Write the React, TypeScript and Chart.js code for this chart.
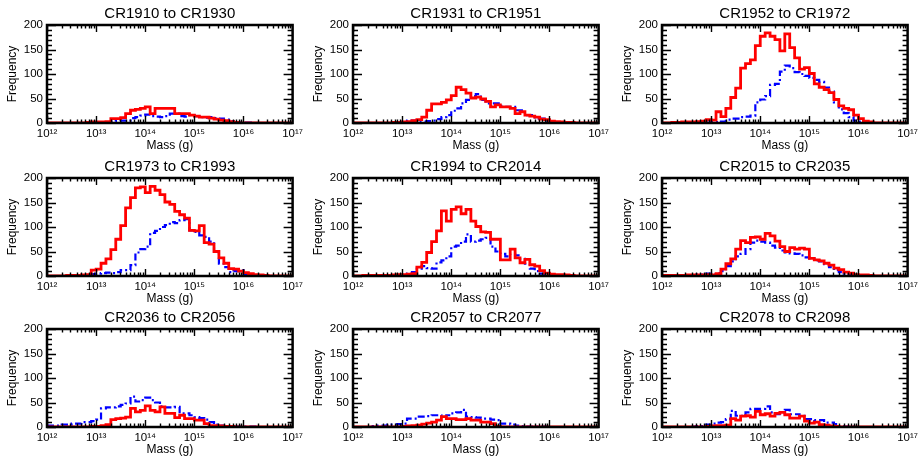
import React, { useEffect, useRef } from "react";
import { Chart, registerables } from "chart.js";

Chart.register(...registerables);

// ---------- data ----------
const PANEL_TITLES = [
  "CR1910 to CR1930",
  "CR1931 to CR1951",
  "CR1952 to CR1972",
  "CR1973 to CR1993",
  "CR1994 to CR2014",
  "CR2015 to CR2035",
  "CR2036 to CR2056",
  "CR2057 to CR2077",
  "CR2078 to CR2098",
];

// histogram bins: log10(mass) from 12.0 to 17.0 in 0.1 dex steps (left edges)
const BIN_LOG_START = 12;
const BIN_LOG_WIDTH = 0.1;
const BIN_COUNT = 50;

const X_TICK_EXPONENTS = [12, 13, 14, 15, 16, 17];
const Y_TICK_VALUES = [0, 50, 100, 150, 200];
const Y_MINOR_STEP = 10;

// red (solid) series, one value per bin
const red1 = [0,0,0,0,0,0,0,0,0,1, 2,2,2,3,9,9,11,19,26,28, 30,33,19,30,30,30,30,19,19,19, 16,14,12,12,10,8,6,5,3,1, 0,0,0,0,0,0,0,0,0,0];
const red2 = [0,0,0,0,0,0,0,0,0,1, 1,2,3,5,7,12,26,39,39,42, 47,56,73,68,61,51,53,49,44,33, 37,33,33,30,19,23,16,14,12,8, 7,4,3,2,1,1,0,0,0,0];
const red3 = [0,0,0,1,1,2,2,2,3,4, 7,6,23,13,30,52,71,112,121,129, 158,177,184,177,170,147,182,154,133,110, 113,101,80,73,68,62,48,35,30,27, 16,9,4,2,0,0,0,0,0,0];
const red4 = [0,0,0,0,0,1,1,1,2,3, 12,14,26,35,54,75,103,139,160,180, 182,170,183,175,166,151,146,132,125,118, 93,92,103,68,65,50,37,26,15,14, 10,7,5,3,2,1,0,0,0,0];
const red5 = [0,0,0,1,1,1,1,1,1,2, 3,3,4,5,18,28,48,70,92,133, 112,136,141,127,136,112,101,90,89,75, 75,33,33,55,37,27,34,23,20,11, 6,4,3,3,2,1,0,0,0,0];
const red6 = [1,1,1,1,1,1,2,2,2,2, 3,2,5,14,25,35,55,72,68,79, 80,75,87,82,71,60,50,58,55,57, 55,36,33,31,26,22,16,13,8,6, 3,2,2,1,0,0,0,0,0,0];
const red7 = [0,0,0,0,0,0,0,0,0,0, 1,1,3,5,15,17,18,20,38,31, 34,43,34,31,41,28,28,19,24,17, 17,14,14,7,3,3,2,1,1,0, 0,0,0,0,0,0,0,0,0,0];
const red8 = [0,0,0,0,0,0,0,0,0,0, 0,1,2,3,4,6,8,10,14,21, 17,17,15,15,17,14,14,10,10,7, 1,0,0,0,0,0,0,0,0,0, 0,0,0,0,0,0,0,0,0,0];
const red9 = [0,0,0,0,0,0,0,0,0,0, 1,2,3,3,4,17,14,22,23,20, 32,25,27,22,28,30,25,18,18,22, 12,8,10,5,4,2,1,0,0,0, 0,0,0,0,0,0,0,0,0,0];

// blue (dash-dot) series, one value per bin
const blue1 = [0,0,0,0,0,0,0,0,0,0, 0,0,1,1,3,4,5,5,10,12, 15,17,14,13,12,14,19,19,14,13, 16,14,12,11,12,10,9,7,4,2, 1,1,1,0,0,0,0,0,0,0];
const blue2 = [0,0,0,0,0,0,0,0,0,0, 1,2,5,5,3,3,4,5,8,12, 16,25,30,40,47,55,59,47,40,40, 40,35,33,33,26,26,16,16,9,9, 5,3,2,1,1,1,0,0,0,0];
const blue3 = [0,0,0,0,0,0,0,0,0,0, 1,2,2,3,7,9,9,12,13,15, 42,48,55,78,80,105,117,112,104,100, 96,92,88,84,72,64,42,28,20,12, 5,3,1,0,0,0,0,0,0,0];
const blue4 = [0,0,0,0,0,0,0,0,0,1, 4,5,6,7,6,8,12,12,22,48, 55,60,88,92,100,104,110,108,114,116, 93,90,83,80,70,50,25,18,8,10, 12,4,2,1,0,0,0,0,0,0];
const blue5 = [0,0,0,0,1,1,1,1,1,1, 2,3,5,8,15,20,16,15,28,32, 40,60,62,70,85,70,72,75,78,60, 50,45,40,45,42,35,25,15,10,5, 3,2,1,1,1,1,0,0,0,0];
const blue6 = [1,1,1,1,2,2,2,2,3,3, 5,4,6,10,20,30,40,45,55,68, 72,70,68,62,58,52,48,46,45,42, 38,36,32,30,24,18,12,8,5,3, 2,1,0,0,0,0,0,0,0,0];
const blue7 = [3,3,3,3,5,5,7,7,10,10, 12,15,38,40,40,42,45,48,62,52, 55,60,55,50,42,40,40,41,28,28, 24,20,18,15,10,5,3,2,1,1, 1,1,1,1,0,0,0,0,0,0];
const blue8 = [0,0,0,0,0,2,3,3,5,5, 6,7,17,17,21,21,22,24,24,21, 24,28,30,35,21,20,19,17,17,15, 14,7,7,5,3,2,1,1,1,1, 1,0,0,0,0,0,0,0,0,0];
const blue9 = [0,0,0,0,0,0,0,1,2,2, 5,7,9,10,16,33,23,23,30,37, 37,37,42,30,26,26,35,26,26,23, 16,16,14,14,9,9,6,2,1,1, 0,0,0,0,0,0,0,0,0,0];

const RED_SERIES = [red1, red2, red3, red4, red5, red6, red7, red8, red9];
const BLUE_SERIES = [blue1, blue2, blue3, blue4, blue5, blue6, blue7, blue8, blue9];

// ---------- layout ----------
const PAGE_W = 923;
const PAGE_H = 457;
const COL_PLOT_LEFT = [47, 353, 662];
const ROW_PLOT_TOP = [25, 178, 329];
const Y_AXIS_W = 47;
const TITLE_H = 25;
const PLOT_W = 247;
const PLOT_H = 98;
const X_AXIS_H = 30;
const RIGHT_PAD = 13;

const FONT_FAMILY = "'Liberation Sans', Arial, Helvetica, sans-serif";
const SUP_DIGITS = ["⁰", "¹", "²", "³", "⁴", "⁵", "⁶", "⁷", "⁸", "⁹"];
const toSup = (n: number) =>
  String(n)
    .split("")
    .map((d) => SUP_DIGITS[Number(d)] ?? d)
    .join("");

const framePlugin = {
  id: "idlFrame",
  afterDraw(chart: any) {
    const { ctx, chartArea: a, scales } = chart;
    const xs = scales.x;
    const ys = scales.y;
    ctx.save();
    ctx.strokeStyle = "#000";
    ctx.lineWidth = 1.4;
    ctx.beginPath();
    // log x ticks (major at decades, minor at 2..9)
    for (let e = X_TICK_EXPONENTS[0]; e < X_TICK_EXPONENTS[X_TICK_EXPONENTS.length - 1]; e++) {
      for (let k = 1; k <= 9; k++) {
        const px = Math.round(xs.getPixelForValue(k * Math.pow(10, e))) + 0.5;
        const len = k === 1 ? 7 : 3.5;
        ctx.moveTo(px, a.bottom);
        ctx.lineTo(px, a.bottom - len);
        ctx.moveTo(px, a.top);
        ctx.lineTo(px, a.top + len);
      }
    }
    // y ticks
    const yMax = Y_TICK_VALUES[Y_TICK_VALUES.length - 1];
    for (let v = 0; v <= yMax; v += Y_MINOR_STEP) {
      const py = Math.round(ys.getPixelForValue(v)) + 0.5;
      const major = Y_TICK_VALUES.includes(v);
      const len = major ? 9 : 5;
      ctx.moveTo(a.left, py);
      ctx.lineTo(a.left + len, py);
      ctx.moveTo(a.right, py);
      ctx.lineTo(a.right - len, py);
    }
    ctx.stroke();
    ctx.lineWidth = 2.5;
    ctx.strokeRect(a.left, a.top, a.right - a.left, a.bottom - a.top);
    ctx.restore();
  },
};

function buildSeries(values: number[]) {
  const pts: { x: number; y: number }[] = [];
  for (let i = 0; i <= BIN_COUNT; i++) {
    const logEdge = BIN_LOG_START + i * BIN_LOG_WIDTH;
    pts.push({ x: Math.pow(10, logEdge), y: values[Math.min(i, BIN_COUNT - 1)] });
  }
  return pts;
}

function Panel({ index }: { index: number }) {
  const ref = useRef<HTMLCanvasElement | null>(null);
  const col = index % 3;
  const row = Math.floor(index / 3);
  const left = COL_PLOT_LEFT[col] - Y_AXIS_W;
  const top = ROW_PLOT_TOP[row] - TITLE_H;
  const width = Y_AXIS_W + PLOT_W + RIGHT_PAD;
  const height = TITLE_H + PLOT_H + X_AXIS_H;

  useEffect(() => {
    if (!ref.current) return;
    const chart = new Chart(ref.current, {
      type: "line",
      data: {
        datasets: [
          {
            data: buildSeries(RED_SERIES[index]),
            borderColor: "#ff0000",
            borderWidth: 2.8,
            stepped: "after",
            pointRadius: 0,
            fill: false,
          },
          {
            data: buildSeries(BLUE_SERIES[index]),
            borderColor: "#0000ff",
            borderWidth: 2.2,
            borderDash: [7, 3, 2, 3],
            stepped: "after",
            pointRadius: 0,
            fill: false,
          },
        ],
      },
      options: {
        animation: false,
        responsive: false,
        maintainAspectRatio: false,
        events: [],
        layout: { padding: { left: 0, right: RIGHT_PAD, top: 0, bottom: 0 } },
        plugins: {
          legend: { display: false },
          tooltip: { enabled: false },
          title: {
            display: true,
            fullSize: false,
            text: PANEL_TITLES[index],
            color: "#000",
            font: { family: FONT_FAMILY, size: 15, weight: "normal", lineHeight: 1.2 },
            padding: { top: 5, bottom: 2 },
          },
        },
        scales: {
          x: {
            type: "logarithmic",
            min: Math.pow(10, X_TICK_EXPONENTS[0]),
            max: Math.pow(10, X_TICK_EXPONENTS[X_TICK_EXPONENTS.length - 1]),
            afterBuildTicks: (s: any) => {
              s.ticks = X_TICK_EXPONENTS.map((e) => ({ value: Math.pow(10, e) }));
            },
            afterFit: (s: any) => {
              s.height = X_AXIS_H;
            },
            ticks: {
              autoSkip: false,
              maxRotation: 0,
              padding: 4,
              color: "#000",
              font: { family: FONT_FAMILY, size: 11.5 },
              callback: (v: any) => "10" + toSup(Math.round(Math.log10(Number(v)))),
            },
            grid: { display: false, drawTicks: false },
            border: { display: false },
            title: {
              display: true,
              text: "Mass (g)",
              color: "#000",
              font: { family: FONT_FAMILY, size: 12 },
              padding: { top: 0, bottom: 0 },
            },
          },
          y: {
            min: Y_TICK_VALUES[0],
            max: Y_TICK_VALUES[Y_TICK_VALUES.length - 1],
            afterBuildTicks: (s: any) => {
              s.ticks = Y_TICK_VALUES.map((v) => ({ value: v }));
            },
            afterFit: (s: any) => {
              s.width = Y_AXIS_W;
            },
            ticks: {
              padding: 4,
              color: "#000",
              font: { family: FONT_FAMILY, size: 11.5 },
            },
            grid: { display: false, drawTicks: false },
            border: { display: false },
            title: {
              display: true,
              text: "Frequency",
              color: "#000",
              font: { family: FONT_FAMILY, size: 12 },
              padding: { top: 5, bottom: 0 },
            },
          },
        },
      },
      plugins: [framePlugin],
    } as any);
    return () => chart.destroy();
  }, [index]);

  return (
    <canvas
      ref={ref}
      width={width}
      height={height}
      style={{ position: "absolute", left, top, width, height, display: "block" }}
    />
  );
}

export default function App() {
  return (
    <div
      style={{
        position: "fixed",
        left: 0,
        top: 0,
        width: PAGE_W,
        height: PAGE_H,
        background: "#fff",
        overflow: "hidden",
      }}
    >
      {PANEL_TITLES.map((_, i) => (
        <Panel key={i} index={i} />
      ))}
    </div>
  );
}
